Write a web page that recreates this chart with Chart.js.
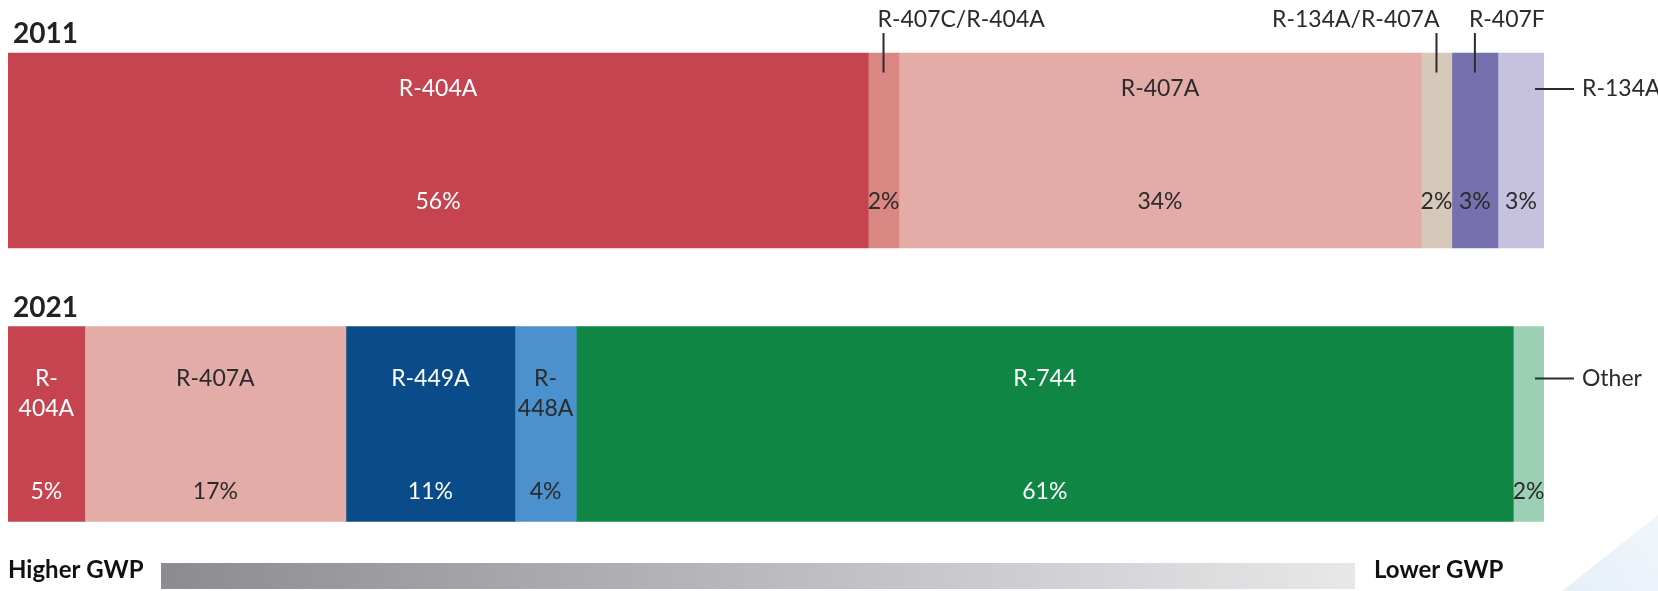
<!DOCTYPE html>
<html>
<head>
<meta charset="utf-8">
<script src="https://cdn.jsdelivr.net/npm/chart.js@4/dist/chart.umd.min.js"></script>
<style>
  html, body { margin: 0; padding: 0; background: #fff; }
  #wrap { width: 1658px; height: 591px; position: relative; }
</style>
</head>
<body>
<div id="wrap"><canvas id="myChart"></canvas></div>
<script>
// data (share of refrigerant, %)
const years = ['2011', '2021'];
const refrigerants = ['R-404A', 'R-407C/R-404A', 'R-407A', 'R-134A/R-407A', 'R-407F', 'R-134A', 'R-449A', 'R-448A', 'R-744', 'Other'];
const share2011 = [56, 2, 34, 2, 3, 3, null, null, null, null];
const share2021 = [5, null, 17, null, null, null, 11, 4, 61, 2];
const barColors = ['#C5444F', '#DA8683', '#E3ACA7', '#D6C9B9', '#7670AE', '#C5C1DF', '#0A4C89', '#4B91CE', '#108644', '#9BD0B5'];
const textColors = ['#ffffff', '#2b2b2b', '#2b2b2b', '#2b2b2b', '#2b2b2b', '#2b2b2b', '#ffffff', '#2b2b2b', '#ffffff', '#2b2b2b'];
const gwpLabels = ['Higher GWP', 'Lower GWP'];

// names that sit outside the bar, with a leader line
const callouts = {
  '0:R-407C/R-404A': 'above-left',
  '0:R-134A/R-407A': 'above-right',
  '0:R-407F': 'above-left',
  '0:R-134A': 'right',
  '1:Other': 'right'
};

const FONT = 'Lato, "Open Sans", sans-serif';
const DARK = '#2b2b2b';

const datasets = refrigerants.map((name, i) => ({
  label: name,
  data: [share2011[i], share2021[i]],
  backgroundColor: barColors[i],
  borderWidth: 0,
  barThickness: 195
}));

const labelPlugin = {
  id: 'labelPlugin',
  afterDatasetsDraw(chart) {
    const ctx = chart.ctx;
    const area = chart.chartArea;
    ctx.save();

    // year titles
    ctx.fillStyle = '#222';
    ctx.font = 'bold 28px ' + FONT;
    ctx.textAlign = 'left';
    ctx.textBaseline = 'alphabetic';
    years.forEach((yr, j) => {
      const yc = chart.scales.y.getPixelForValue(j);
      ctx.fillText(yr, area.left + 5, yc - 97.5 - 10);
    });

    const nameOffset = [36, 52];
    const pctOffset = [149, 165];

    chart.data.datasets.forEach((ds, i) => {
      const meta = chart.getDatasetMeta(i);
      ds.data.forEach((v, j) => {
        if (!v) return;
        const el = meta.data[j];
        const left = Math.min(el.base, el.x);
        const right = Math.max(el.base, el.x);
        const top = el.y - el.height / 2;
        const cx = (left + right) / 2;

        ctx.font = '23px ' + FONT;
        ctx.textAlign = 'center';
        ctx.textBaseline = 'middle';
        ctx.fillStyle = textColors[i];
        ctx.fillText(v + '%', cx, top + pctOffset[j]);

        const key = j + ':' + ds.label;
        const kind = callouts[key];
        ctx.strokeStyle = DARK;
        ctx.lineWidth = 2;
        if (kind === 'above-left' || kind === 'above-right') {
          ctx.beginPath();
          ctx.moveTo(cx, top - 20);
          ctx.lineTo(cx, top + 19.5);
          ctx.stroke();
          ctx.fillStyle = DARK;
          ctx.textBaseline = 'alphabetic';
          ctx.textAlign = kind === 'above-left' ? 'left' : 'right';
          ctx.fillText(ds.label, kind === 'above-left' ? cx - 6 : cx + 3, top - 26);
        } else if (kind === 'right') {
          const ly = top + nameOffset[j];
          ctx.beginPath();
          ctx.moveTo(right - 9, ly);
          ctx.lineTo(right + 30, ly);
          ctx.stroke();
          ctx.fillStyle = DARK;
          ctx.textAlign = 'left';
          ctx.fillText(ds.label, right + 38, ly);
        } else {
          ctx.fillStyle = textColors[i];
          const w = ctx.measureText(ds.label).width;
          if (w > right - left - 6 && ds.label.indexOf('-') > 0) {
            const k = ds.label.indexOf('-') + 1;
            ctx.fillText(ds.label.slice(0, k), cx, top + nameOffset[j]);
            ctx.fillText(ds.label.slice(k), cx, top + nameOffset[j] + 30);
          } else {
            ctx.fillText(ds.label, cx, top + nameOffset[j]);
          }
        }
      });
    });

    // GWP scale at the bottom
    const gy = 563, gh = 26;
    const grad = ctx.createLinearGradient(161, 0, 1355, 0);
    grad.addColorStop(0, '#8B8C90');
    grad.addColorStop(1, '#E7E8EA');
    ctx.fillStyle = grad;
    ctx.fillRect(161, gy, 1355 - 161, gh);
    ctx.fillStyle = '#111';
    ctx.font = 'bold 24px ' + FONT;
    ctx.textAlign = 'left';
    ctx.textBaseline = 'alphabetic';
    ctx.fillText(gwpLabels[0], 8, 578);
    ctx.fillText(gwpLabels[1], 1374, 578);

    // light corner decoration
    const cg = ctx.createLinearGradient(1560, 591, 1658, 500);
    cg.addColorStop(0, '#E6EFF8');
    cg.addColorStop(1, '#F1F6FB');
    ctx.fillStyle = cg;
    ctx.beginPath();
    ctx.moveTo(1562, 591);
    ctx.lineTo(1658, 515);
    ctx.lineTo(1658, 591);
    ctx.closePath();
    ctx.fill();

    ctx.restore();
  }
};

const ctx = document.getElementById('myChart').getContext('2d');
const myChart = new Chart(ctx, {
  type: 'bar',
  data: { labels: years, datasets: datasets },
  options: {
    indexAxis: 'y',
    responsive: true,
    maintainAspectRatio: false,
    animation: false,
    layout: { padding: { left: 8, right: 114, top: 13.75, bottom: 30.25 } },
    plugins: {
      legend: { display: false },
      tooltip: { enabled: false }
    },
    scales: {
      x: { stacked: true, min: 0, max: 100, display: false },
      y: { stacked: true, display: false }
    }
  },
  plugins: [labelPlugin]
});
</script>
</body>
</html>
